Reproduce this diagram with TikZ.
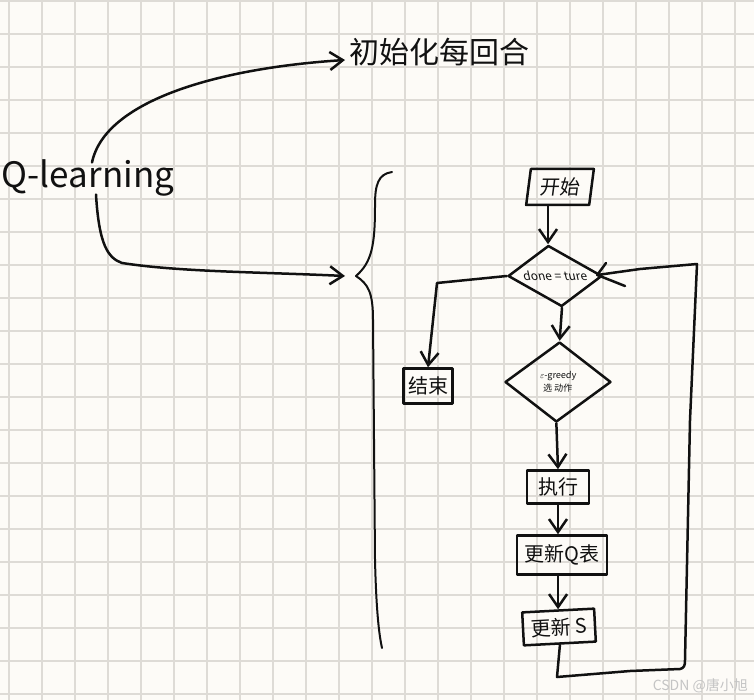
\documentclass[tikz,border=0pt]{standalone}
\usepackage{fontspec}
\setmainfont{Noto Sans CJK SC}
\usepackage{tikz}
\usetikzlibrary{positioning,arrows.meta,calc,shapes.geometric}
\definecolor{paper}{HTML}{FDFBF7}
\definecolor{gridline}{HTML}{DEDBD6}
\definecolor{ink}{HTML}{111111}
\definecolor{mark}{HTML}{C4C4C4}

\begin{document}
\begin{tikzpicture}[
  x=1pt, y=-1pt,
  pen/.style={draw=ink, line width=2.5pt, line cap=round, line join=round},
  box/.style={pen, inner sep=0pt, text=ink, font=\fontsize{20}{22}\selectfont},
  choice/.style={pen, diamond, inner sep=0pt, aspect=1.5, text=ink, align=center},
  arr/.style={pen, -{Straight Barb[length=13pt, width=18pt, line width=2.5pt]}},
  lbl/.style={text=ink, inner sep=0pt}
]
\useasboundingbox (0,0) rectangle (754,700);
\fill[paper] (0,0) rectangle (754,700);

% ---- grid ----
\foreach \gx in {9,42,...,735} \draw[gridline, line width=1.5pt] (\gx,0) -- (\gx,700);
\foreach \gy in {1,34,...,694} \draw[gridline, line width=1.5pt] (0,\gy) -- (754,\gy);

% ---- left labels ----
\node[lbl, font=\fontsize{35}{37}\selectfont] (qlearn) at (88,178) {Q-learning};
\node[lbl, font=\fontsize{30}{32}\selectfont, anchor=west] (init) at (349,52) {初始化每回合};
\coordinate (bracetip) at (356,276);

% ---- flow ----
\node[box, minimum width=63pt, minimum height=36pt, xslant=0.13] (start) at (560,187) {开始};
\node[choice, minimum width=94pt, minimum height=61pt, xslant=-0.22, font=\fontsize{12}{13}\selectfont] (done) at (555,276) {done = ture};
\node[box, minimum width=49pt, minimum height=35pt] (finish) at (428,386) {结束};
\node[choice, minimum width=106pt, minimum height=80pt, xslant=0.04, font=\fontsize{9}{13}\selectfont] (greedy) at (558,382) {$\varepsilon$-greedy\\选 动作};
\node[box, minimum width=62pt, minimum height=33pt] (act) at (558,487) {执行};
\node[box, minimum width=90pt, minimum height=39pt] (updq) at (562,555) {更新Q表};
\node[box, minimum width=72pt, minimum height=33pt, rotate=3] (upds) at (559,627) {更新 S};

\node[text=mark, inner sep=0pt, font=\fontsize{14}{16}\selectfont, anchor=east] (mark) at (748,686) {CSDN @唐小旭};

% ---- brace ----
\draw[pen, line width=2pt] (392,172) .. controls (378,174) and (375,185) .. (375,205)
  .. controls (375,245) and (372,262) .. (bracetip)
  .. controls (368,284) and (373,292) .. (373,320)
  -- (375,560) .. controls (376,600) and (378,630) .. (382,648);

% ---- arrows ----
\draw[arr] ($(qlearn.north)+(4,3)$) .. controls (105,100) and (220,68) .. ($(init.west)+(-4,8)$);
\draw[arr] ($(qlearn.south)+(8,-2)$) .. controls (99,245) and (108,258) .. (122,263)
  .. controls (180,272) and (260,272) .. ($(bracetip)+(-11,0)$);
\draw[arr] (start.south -| done.north) -- (done.north);
\draw[arr] (done.west) -- (437,283) -- (finish.north);
\draw[arr] (done.south) -- (greedy.north);
\draw[arr] (greedy.south) -- (act.north);
\draw[arr] (act.south) -- (updq.north -| act.south);
\draw[arr] (updq.south -| upds.north) -- (upds.north);
\draw[pen] (upds.south) -- (557,677) -- (630,671) -- (680,669)
  .. controls (684,668) and (685,666) .. (685,660) -- (690,420) -- (697,264) -- (640,269)
  -- ($(done.east)+(-6,-1)$);
\draw[pen] ($(done.east)+(-6,-1)$) -- (606,263);
\draw[pen] ($(done.east)+(-6,-1)$) -- (625,286);
\end{tikzpicture}
\end{document}
